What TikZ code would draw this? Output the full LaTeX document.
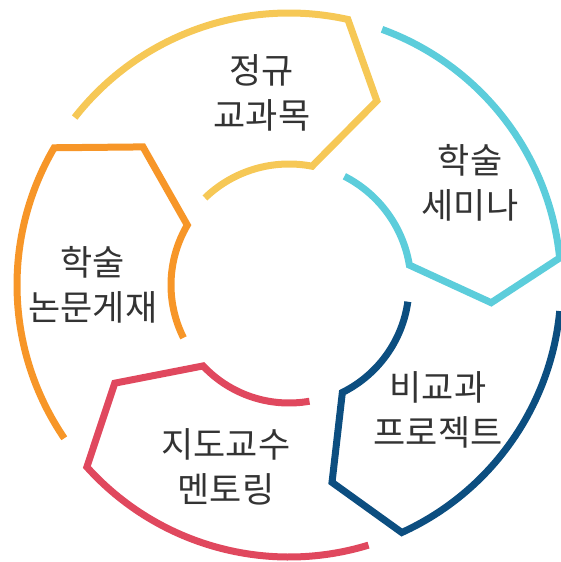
\documentclass[tikz,border=0pt]{standalone}
\usepackage{fontspec}
\usepackage{xcolor}
\usepackage{tikz}
\newfontfamily\krfont{Noto Sans CJK KR}
\definecolor{courseyellow}{RGB}{246, 200, 86}
\definecolor{seminarcyan}{RGB}{92, 205, 219}
\definecolor{projectblue}{RGB}{12, 78, 128}
\definecolor{mentorred}{RGB}{224, 72, 94}
\definecolor{paperorange}{RGB}{247, 150, 40}
\definecolor{textgray}{RGB}{51, 51, 51}

\begin{document}
\begin{tikzpicture}[
    ring/.style={draw=#1, line width=7pt, line join=miter},
    stage/.style={align=center, font=\krfont\fontsize{35}{45}\selectfont, text=textgray, inner sep=0pt}
]
    \useasboundingbox (-289pt,-277pt) rectangle (272pt,285pt);

    % Ring segments
    \draw[ring=courseyellow] (142:272pt) arc[start angle=142, end angle=77.5, radius=272pt]
        -- (64.5:204pt) -- (79:121pt) arc[start angle=79, end angle=134, radius=121pt];
    \draw[ring=seminarcyan] (70:272pt) arc[start angle=70, end angle=5.7, radius=272pt]
        -- (-5:203pt) -- (9.4:122pt) arc[start angle=9.4, end angle=63, radius=122pt];
    \draw[ring=projectblue] (-5.5:272pt) arc[start angle=-5.5, end angle=-65.5, radius=272pt]
        -- (-77.7:202pt) -- (-63.6:120pt) arc[start angle=-63.6, end angle=-8, radius=120pt];
    \draw[ring=mentorred] (-73:272pt) arc[start angle=-73, end angle=-138, radius=272pt]
        -- (-150.6:200pt) -- (-136.7:118pt) arc[start angle=-136.7, end angle=-80, radius=118pt];
    \draw[ring=paperorange] (-145.7:272pt) arc[start angle=-145.7, end angle=-210.3, radius=272pt]
        -- (136.6:201pt) -- (149.5:118pt) arc[start angle=149.5, end angle=206.6, radius=118pt];

    % Stage labels
    \node[stage] (course) at (-27pt,192pt) {정규\\교과목};
    \node[stage] (seminar) at (181pt,102pt) {학술\\세미나};
    \node[stage] (project) at (149pt,-125pt) {비교과\\프로젝트};
    \node[stage] (mentor) at (-63pt,-182pt) {지도교수\\멘토링};
    \node[stage] (paper) at (-196pt,0pt) {학술\\논문게재};
\end{tikzpicture}
\end{document}
